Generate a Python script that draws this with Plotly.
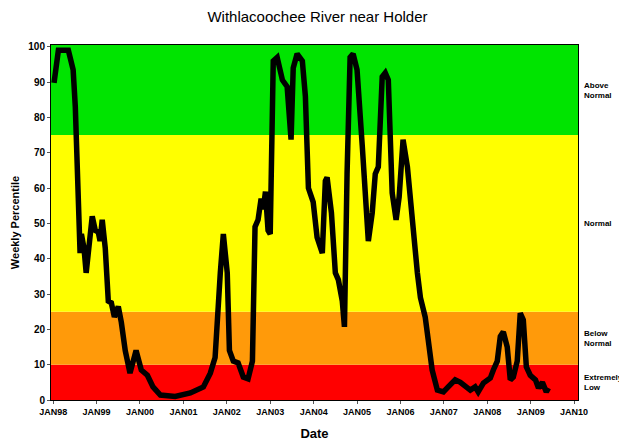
import plotly.graph_objects as go

# Decimal-year positions and weekly percentile values
years = [1998.02, 1998.12, 1998.35, 1998.46, 1998.51, 1998.55, 1998.60, 1998.62, 1998.65, 1998.71,
         1998.76, 1998.85, 1998.90, 1998.97, 1999.04, 1999.08, 1999.13, 1999.20, 1999.27, 1999.34,
         1999.41, 1999.50, 1999.57, 1999.66, 1999.77, 1999.91, 2000.03, 2000.17, 2000.30, 2000.47,
         2000.81, 2001.16, 2001.46, 2001.62, 2001.73, 2001.85, 2001.92, 2002.01, 2002.06, 2002.15,
         2002.26, 2002.38, 2002.49, 2002.59, 2002.65, 2002.72, 2002.79, 2002.84, 2002.89, 2002.95,
         2003.00, 2003.07, 2003.16, 2003.28, 2003.39, 2003.48, 2003.53, 2003.62, 2003.74, 2003.81,
         2003.88, 2003.99, 2004.08, 2004.20, 2004.27, 2004.31, 2004.41, 2004.50, 2004.57, 2004.66,
         2004.71, 2004.77, 2004.84, 2004.91, 2005.00, 2005.12, 2005.19, 2005.26, 2005.35, 2005.42,
         2005.49, 2005.58, 2005.65, 2005.72, 2005.81, 2005.90, 2005.97, 2006.06, 2006.16, 2006.27,
         2006.39, 2006.46, 2006.57, 2006.64, 2006.73, 2006.85, 2006.99, 2007.10, 2007.26, 2007.38,
         2007.49, 2007.61, 2007.72, 2007.79, 2007.91, 2008.07, 2008.14, 2008.23, 2008.30, 2008.37,
         2008.46, 2008.53, 2008.60, 2008.69, 2008.76, 2008.83, 2008.90, 2008.99, 2009.11, 2009.18,
         2009.27, 2009.36, 2009.41]
percentile = [89.8, 99, 99, 93.5, 83, 64, 50, 41.6, 47, 43,
              36, 46, 52, 48, 47.5, 45, 51, 43, 28, 27.5,
              23.5, 26.5, 22, 14, 7.6, 14, 8.5, 7, 3.7, 1.4,
              1, 2, 3.7, 7.6, 12, 36, 47, 36, 14, 11,
              10.5, 6.5, 6, 11, 49, 51, 57, 54, 59, 48,
              47, 96, 97, 90.6, 88.7, 73.7, 94, 98, 96, 86,
              60, 56, 46, 41.6, 62, 63, 53, 36, 34, 28,
              20.7, 64, 97, 98, 93.5, 72, 59.5, 45, 53, 64,
              66, 91.5, 92.6, 90.6, 58.6, 51, 57.5, 73.7, 66, 50,
              36, 29, 23.5, 17, 8.5, 2.8, 2.3, 3.7, 5.7, 5,
              3.7, 2.8, 3.7, 2.3, 4.8, 6.2, 8.5, 11, 18, 19.3,
              15, 5.7, 6.5, 11, 24.6, 22.7, 9.4, 7, 5.7, 3.4,
              5, 2.3, 3.4]

tick_years = list(range(1998, 2011))
tick_labels = ["JAN98", "JAN99", "JAN00", "JAN01", "JAN02", "JAN03", "JAN04",
               "JAN05", "JAN06", "JAN07", "JAN08", "JAN09", "JAN10"]

band_lows = [0, 10, 25, 75]
band_highs = [10, 25, 75, 100.5]
band_colors = ["#ff0000", "#ff9a0a", "#ffff00", "#00e400"]
band_labels = ["Extremely<br>Low", "Below<br>Normal", "Normal", "Above<br>Normal"]
band_label_y = [5, 17.5, 50, 87.5]

FONT = "Liberation Sans, Arial, sans-serif"

fig = go.Figure()
fig.add_trace(go.Scatter(x=years, y=percentile, mode="lines",
                         line=dict(color="black", width=5.5), showlegend=False,
                         hoverinfo="x+y"))

shapes = []
for lo, hi, c in zip(band_lows, band_highs, band_colors):
    shapes.append(dict(type="rect", xref="paper", yref="y", x0=0, x1=1, y0=lo, y1=hi,
                       fillcolor=c, line=dict(width=0), layer="below"))

annotations = []
for lab, yv in zip(band_labels, band_label_y):
    annotations.append(dict(text="<b>" + lab + "</b>", xref="paper", yref="y", x=1.008, y=yv,
                            xanchor="left", yanchor="middle", showarrow=False, align="left",
                            font=dict(family=FONT, size=8, color="black")))

fig.update_layout(
    width=619, height=435,
    margin=dict(l=43, r=49, t=37, b=43, autoexpand=False),
    paper_bgcolor="white", plot_bgcolor="white",
    title=dict(text="Withlacoochee River near Holder", x=0.5, xanchor="center",
               y=0.979, yanchor="middle", font=dict(family=FONT, size=15, color="black")),
    shapes=shapes, annotations=annotations,
    xaxis=dict(range=[1997.95, 2010.09], tickmode="array", tickvals=tick_years,
               ticktext=["<b>" + t + "</b>" for t in tick_labels],
               tickfont=dict(family=FONT, size=9, color="black"), automargin=False,
               ticks="outside", ticklen=3, tickcolor="#555", showgrid=False, zeroline=False,
               showline=True, linecolor="black", linewidth=1, mirror=True,
               title=dict(text="<b>Date</b>", font=dict(family=FONT, size=13, color="black"),
                          standoff=13)),
    yaxis=dict(range=[0, 100.5], tickmode="array", tickvals=list(range(0, 101, 10)),
               ticktext=["<b>%d</b>" % v for v in range(0, 101, 10)],
               tickfont=dict(family=FONT, size=10, color="black"), automargin=False,
               ticks="outside", ticklen=3, tickcolor="#555", showgrid=False, zeroline=False,
               showline=True, linecolor="black", linewidth=1, mirror=True,
               title=dict(text="<b>Weekly Percentile</b>",
                          font=dict(family=FONT, size=11, color="black"), standoff=6)),
)

fig.write_html("out.html")
